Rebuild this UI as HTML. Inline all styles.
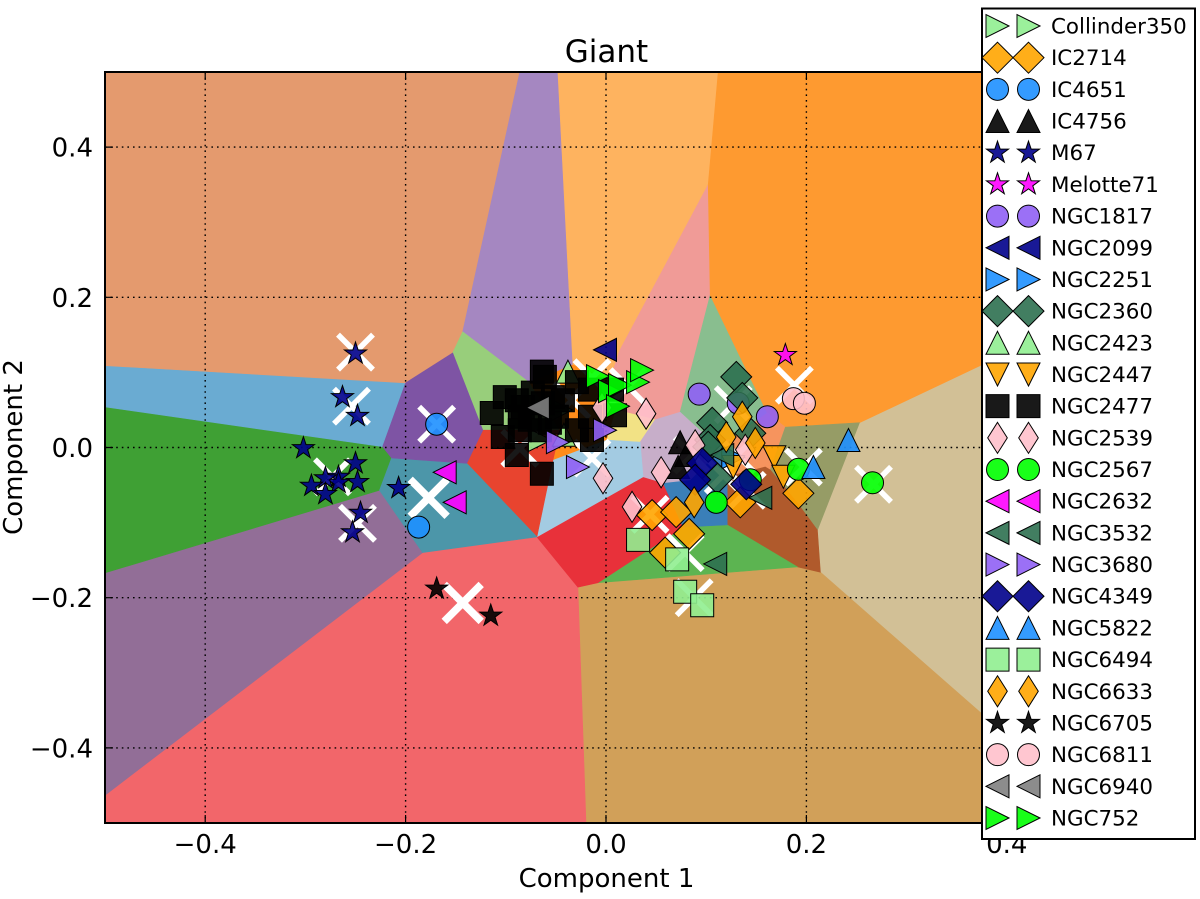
<!DOCTYPE html>
<html lang="en">
<head>
<meta charset="utf-8">
<title>Giant</title>
<style>
html,body{margin:0;padding:0;background:#fff;width:1200px;height:899px;overflow:hidden}
svg{display:block}
text{font-family:"DejaVu Sans","Liberation Sans",sans-serif;fill:#000}
</style>
</head>
<body>
<svg id="chart" xmlns="http://www.w3.org/2000/svg" width="1200" height="899" viewBox="0 0 1200 899">
  <defs><clipPath id="plot-clip"><rect x="106" y="72" width="1001" height="751"/></clipPath></defs>
  <g id="regions" clip-path="url(#plot-clip)"></g>
  <g id="grid"></g>
  <g id="centres" clip-path="url(#plot-clip)"></g>
  <g id="points" clip-path="url(#plot-clip)"></g>
  <g id="axes"></g>
  <text x="606.5" y="62" font-size="31" text-anchor="middle">Giant</text>
  <text x="606.5" y="887" font-size="26" text-anchor="middle">Component 1</text>
  <text transform="translate(22,447) rotate(-90)" font-size="26" text-anchor="middle">Component 2</text>
  <g id="legend">
    <rect x="982" y="8.5" width="213" height="830.5" fill="#fff" stroke="#000" stroke-width="2"/>
  </g>
</svg>
<script>
// Axis ticks
const xTicks = [-0.4, -0.2, 0, 0.2, 0.4];
const yTicks = [0.4, 0.2, 0, -0.2, -0.4];
const xTickLabels = ['\u22120.4', '\u22120.2', '0.0', '0.2', '0.4'];
const yTickLabels = ['0.4', '0.2', '0.0', '\u22120.2', '\u22120.4'];

// Decision-region polygons, in component units
const regionTan = [[.253,.033],[.375,.110],[.5,.183],[.5,-.5],[.373,-.352],[.214,-.166],[.211,-.110]];
const regionSandy = [[-.028,-.186],[-.008,-.180],[.191,-.159],[.214,-.166],[.373,-.352],[.5,-.5],[-.020,-.5]];
const regionCoral = [[-.5,-.463],[-.183,-.140],[-.069,-.119],[-.028,-.186],[-.020,-.5],[-.5,-.5]];
const regionMauve = [[-.5,-.167],[-.226,-.057],[-.183,-.140],[-.5,-.463]];
const regionGreen = [[-.5,.054],[-.223,.001],[-.214,-.014],[-.226,-.057],[-.5,-.167]];
const regionSkyBlue = [[-.5,.109],[-.200,.086],[-.223,.001],[-.5,.054]];
const regionPeach = [[-.5,.5],[-.086,.5],[-.143,.154],[-.153,.126],[-.200,.086],[-.5,.109]];
const regionLilac = [[-.086,.5],[-.048,.5],[-.033,.110],[-.076,.086],[-.143,.154]];
const regionPaleGreen = [[-.153,.126],[-.143,.154],[-.076,.086],[-.046,.023],[-.123,.023]];
const regionLightOrange = [[-.048,.5],[.112,.5],[.102,.350],[.014,.130],[.004,.090],[-.033,.110]];
const regionCentreOrange = [[-.046,.023],[-.076,.086],[-.033,.110],[.004,.090],[.010,.050],[.001,.010],[-.053,-.017]];
const regionPink = [[.102,.350],[.104,.203],[.074,.047],[.049,.037],[.010,.050],[.004,.090],[.014,.130]];
const regionYellow = [[.049,.037],[.034,.007],[.001,.010],[.010,.050]];
const regionSeaGreen = [[.104,.203],[.161,.046],[.124,.010],[.100,.015],[.074,.047]];
const regionBrightOrange = [[.112,.5],[.5,.5],[.5,.183],[.375,.110],[.253,.033],[.179,.027],[.161,.046],[.104,.203],[.102,.350]];
const regionSalmon = [[.161,.046],[.179,.027],[.164,-.030],[.159,-.026],[.121,-.039],[.124,.010]];
const regionOlive = [[.179,.027],[.253,.033],[.211,-.110],[.191,-.074],[.164,-.030]];
const regionBrown = [[.159,-.026],[.164,-.030],[.191,-.074],[.211,-.110],[.214,-.166],[.191,-.159],[.121,-.103],[.121,-.039]];
const regionMidGreen = [[-.008,-.180],[.077,-.106],[.121,-.103],[.191,-.159]];
const regionCrimson = [[-.069,-.119],[-.028,-.186],[-.008,-.180],[.077,-.106],[.057,-.047],[.037,-.039]];
const regionSteelBlue = [[.057,-.047],[.084,-.043],[.124,.010],[.121,-.039],[.121,-.103],[.077,-.106]];
const regionPaleLilac = [[.074,.047],[.100,.015],[.124,.010],[.084,-.043],[.057,-.047],[.037,-.039],[.034,.007],[.049,.037]];
const regionPaleBlue = [[-.069,-.119],[.037,-.039],[.034,.007],[.001,.010],[-.053,-.017]];
const regionRedOrange = [[-.139,-.021],[-.123,.023],[-.046,.023],[-.053,-.017],[-.069,-.119]];
const regionTeal = [[-.214,-.014],[-.139,-.021],[-.069,-.119],[-.183,-.140],[-.226,-.057]];
const regionDeepPurple = [[-.200,.086],[-.153,.126],[-.123,.023],[-.139,-.021],[-.214,-.014],[-.223,.001]];

// Cluster centres
const clusterCentres = [[-.250,.127],[-.254,.055],[-.169,.031],[-.273,-.039],[-.248,-.101],[.188,.083],[.267,-.049],[.088,-.200],[.044,-.089],[.079,-.140],[.197,-.026],[.127,.057],[.086,-.010],[.117,-.037],[.141,-.057],[.131,-.010],[-.014,.093],[.022,.081],[-.014,-.014],[-.086,-.001],[-.034,.063]];
const largeClusterCentres = [[-.177,-.067],[-.143,-.207]];

// Series points
const collinder350 = [[-.045,.05],[-.066,.01]];
const ic2714 = [[.046,-.090],[.070,-.086],[.083,-.115],[.059,-.140],[.134,-.073],[.192,-.061]];
const ic4651 = [[-.169,.031],[-.187,-.106]];
const ic4756 = [[.074,.007],[.072,-.026],[.080,-.010]];
const m67 = [[-.250,.125],[-.263,.067],[-.248,.042],[-.302,-.001],[-.250,-.021],[-.248,-.046],[-.267,-.039],[-.267,-.047],[-.280,-.041],[-.294,-.051],[-.280,-.062],[-.207,-.054],[-.245,-.087],[-.253,-.113]];
const melotte71 = [[.179,.123]];
const ngc1817 = [[.093,.071],[.161,.041],[.132,.059]];
const ngc2099 = [[-.001,.130]];
const ngc2251 = [[.127,-.013]];
const ngc2360 = [[.130,.094],[.136,.066],[.106,.033],[.104,.010],[.144,.019],[.111,-.041],[.102,.001]];
const ngc2423 = [[-.038,.101],[-.042,.017]];
const ngc2447 = [[.168,-.013],[.177,-.039],[.127,-.026]];
const ngc2477 = [[-.064,.101],[-.061,.094],[-.101,.067],[-.089,.063],[-.114,.046],[-.103,.014],[-.089,-.010],[-.064,-.035],[-.086,.023],[-.076,.037],[-.083,.054],[-.063,.059],[-.053,.067],[-.043,.063],[-.029,.087],[-.016,.077],[.009,.043],[.006,.077],[-.014,.010],[-.029,.023],[-.066,.023],[-.016,.041],[-.049,.041],[-.056,.033],[-.086,.041],[-.073,.073]];
const ngc2539 = [[-.003,-.041],[.040,.045],[.055,-.033],[.026,-.079],[-.004,.053],[.089,.003],[.139,-.003]];
const ngc2567 = [[.266,-.047],[.192,-.029],[.110,-.073],[.144,-.043]];
const ngc2632 = [[-.161,-.033],[-.151,-.073]];
const ngc3532 = [[.109,-.155],[.154,-.067],[.116,-.010]];
const ngc3680 = [[-.001,.023],[-.028,-.026],[-.048,.007]];
const ngc4349 = [[.096,-.021],[.089,-.043],[.140,-.049]];
const ngc5822 = [[.242,.010],[.207,-.026]];
const ngc6494 = [[.032,-.123],[.071,-.149],[.079,-.192],[.096,-.210]];
const ngc6633 = [[.136,.041],[.120,.014],[.149,.006],[.088,-.073]];
const ngc6705 = [[-.169,-.188],[-.115,-.224]];
const ngc6811 = [[.187,.065],[.198,.059]];
const ngc6940 = [[-.068,.053]];
const ngc752 = [[-.008,.095],[.004,.075],[.014,.083],[.032,.087],[.036,.103],[.012,.055]];

// Axis functions
function sx(v){ return 606 + 1002 * v; }
function sy(v){ return 447.5 - 751 * v; }

const NS = 'http://www.w3.org/2000/svg';
function make(tag, parent){
  const el = document.createElementNS(NS, tag);
  parent.appendChild(el);
  return el;
}

// Regions
const regionsG = document.getElementById('regions');
function drawRegion(poly, fill, name){
  const el = make('polygon', regionsG);
  
  
  el.setAttribute('points', poly.map(p => sx(p[0]).toFixed(1) + ',' + sy(p[1]).toFixed(1)).join(' '));
  el.setAttribute('fill', fill);
  el.setAttribute('stroke', fill);
  el.setAttribute('stroke-width', '0.6');
}
drawRegion(regionTan, '#D2C096', 'region-tan');
drawRegion(regionSandy, '#D1A059', 'region-sandy');
drawRegion(regionCoral, '#F2666A', 'region-coral');
drawRegion(regionMauve, '#926E97', 'region-mauve');
drawRegion(regionGreen, '#3FA034', 'region-green');
drawRegion(regionSkyBlue, '#6AABD2', 'region-sky-blue');
drawRegion(regionPeach, '#E49A6E', 'region-peach');
drawRegion(regionLilac, '#A587C1', 'region-lilac');
drawRegion(regionPaleGreen, '#98CE7B', 'region-pale-green');
drawRegion(regionLightOrange, '#FEB35F', 'region-light-orange');
drawRegion(regionCentreOrange, '#FF8C1A', 'region-centre-orange');
drawRegion(regionPink, '#F09B97', 'region-pink');
drawRegion(regionYellow, '#F2E285', 'region-yellow');
drawRegion(regionSeaGreen, '#89BE8F', 'region-sea-green');
drawRegion(regionBrightOrange, '#FE9A30', 'region-bright-orange');
drawRegion(regionSalmon, '#F6945E', 'region-salmon');
drawRegion(regionOlive, '#969C66', 'region-olive');
drawRegion(regionBrown, '#B05A2C', 'region-brown');
drawRegion(regionMidGreen, '#5CB451', 'region-mid-green');
drawRegion(regionCrimson, '#E8313A', 'region-crimson');
drawRegion(regionSteelBlue, '#3A7FB8', 'region-steel-blue');
drawRegion(regionPaleLilac, '#C7AEC9', 'region-pale-lilac');
drawRegion(regionPaleBlue, '#A3CBE2', 'region-pale-blue');
drawRegion(regionRedOrange, '#E8442F', 'region-red-orange');
drawRegion(regionTeal, '#4C96A9', 'region-teal');
drawRegion(regionDeepPurple, '#7E54A4', 'region-deep-purple');

// Grid
const gridG = document.getElementById('grid');
xTicks.forEach(function(t){
  const el = make('line', gridG);
  
  
  el.setAttribute('x1', sx(t)); el.setAttribute('x2', sx(t));
  el.setAttribute('y1', sy(0.5)); el.setAttribute('y2', sy(-0.5));
  el.setAttribute('stroke', '#000');
  el.setAttribute('stroke-width', '1.4');
  el.setAttribute('stroke-dasharray', '1.6,4');
});
yTicks.forEach(function(t){
  const el = make('line', gridG);
  
  
  el.setAttribute('x1', sx(-0.5)); el.setAttribute('x2', sx(0.5));
  el.setAttribute('y1', sy(t)); el.setAttribute('y2', sy(t));
  el.setAttribute('stroke', '#000');
  el.setAttribute('stroke-width', '1.4');
  el.setAttribute('stroke-dasharray', '1.6,4');
});

// White cluster centre crosses
const centresG = document.getElementById('centres');
function drawCross(c, half, width, name){
  const el = make('path', centresG);
  
  
  const x = sx(c[0]), y = sy(c[1]);
  el.setAttribute('d', 'M' + (x-half) + ' ' + (y-half) + 'L' + (x+half) + ' ' + (y+half) + 'M' + (x-half) + ' ' + (y+half) + 'L' + (x+half) + ' ' + (y-half));
  el.setAttribute('stroke', '#fff');
  el.setAttribute('stroke-width', width);
  el.setAttribute('fill', 'none');
}
clusterCentres.forEach(function(c){ drawCross(c, 17.5, 5.5, 'cluster-centre-cross'); });
largeClusterCentres.forEach(function(c){ drawCross(c, 18.5, 7.5, 'large-cluster-centre-cross'); });

// Marker shapes
function pts(list, x, y){
  return 'M' + list.map(p => (x + p[0]).toFixed(2) + ' ' + (y + p[1]).toFixed(2)).join('L') + 'Z';
}
function markerPath(shape, x, y){
  if (shape === 'o') {
    return 'M' + (x-11) + ' ' + y + 'A11 11 0 1 0 ' + (x+11) + ' ' + y + 'A11 11 0 1 0 ' + (x-11) + ' ' + y + 'Z';
  }
  if (shape === 's') return pts([[-11.5,-11.5],[11.5,-11.5],[11.5,11.5],[-11.5,11.5]], x, y);
  if (shape === '^') return pts([[0,-11.5],[11.5,11.5],[-11.5,11.5]], x, y);
  if (shape === 'v') return pts([[0,11.5],[11.5,-11.5],[-11.5,-11.5]], x, y);
  if (shape === '<') return pts([[-11.5,0],[11.5,-11.5],[11.5,11.5]], x, y);
  if (shape === '>') return pts([[11.5,0],[-11.5,-11.5],[-11.5,11.5]], x, y);
  if (shape === 'D') return pts([[0,-15.5],[15.5,0],[0,15.5],[-15.5,0]], x, y);
  if (shape === 'd') return pts([[0,-15.5],[9.8,0],[0,15.5],[-9.8,0]], x, y);
  const star = [];
  for (let i = 0; i < 10; i++) {
    const r = i % 2 ? 4.5 : 11.6;
    const a = -Math.PI / 2 + i * Math.PI / 5;
    star.push([r * Math.cos(a), r * Math.sin(a)]);
  }
  return pts(star, x, y);
}

// Series definitions (legend order)
const seriesList = [
  {name:'Collinder350', shape:'>', color:'#90EE90', points:collinder350},
  {name:'IC2714', shape:'D', color:'#FFA500', points:ic2714},
  {name:'IC4651', shape:'o', color:'#1E90FF', points:ic4651},
  {name:'IC4756', shape:'^', color:'#000000', points:ic4756},
  {name:'M67', shape:'*', color:'#00008B', points:m67},
  {name:'Melotte71', shape:'*', color:'#FF00FF', points:melotte71},
  {name:'NGC1817', shape:'o', color:'#9060F5', points:ngc1817},
  {name:'NGC2099', shape:'<', color:'#00008B', points:ngc2099},
  {name:'NGC2251', shape:'>', color:'#1E90FF', points:ngc2251},
  {name:'NGC2360', shape:'D', color:'#2E7050', points:ngc2360},
  {name:'NGC2423', shape:'^', color:'#90EE90', points:ngc2423},
  {name:'NGC2447', shape:'v', color:'#FFA500', points:ngc2447},
  {name:'NGC2477', shape:'s', color:'#000000', points:ngc2477},
  {name:'NGC2539', shape:'d', color:'#FFC0CB', points:ngc2539},
  {name:'NGC2567', shape:'o', color:'#00FF00', points:ngc2567},
  {name:'NGC2632', shape:'<', color:'#FF00FF', points:ngc2632},
  {name:'NGC3532', shape:'<', color:'#2E7050', points:ngc3532},
  {name:'NGC3680', shape:'>', color:'#9060F5', points:ngc3680},
  {name:'NGC4349', shape:'D', color:'#00008B', points:ngc4349},
  {name:'NGC5822', shape:'^', color:'#1E90FF', points:ngc5822},
  {name:'NGC6494', shape:'s', color:'#90EE90', points:ngc6494},
  {name:'NGC6633', shape:'d', color:'#FFA500', points:ngc6633},
  {name:'NGC6705', shape:'*', color:'#000000', points:ngc6705},
  {name:'NGC6811', shape:'o', color:'#FFC0CB', points:ngc6811},
  {name:'NGC6940', shape:'<', color:'#808080', points:ngc6940},
  {name:'NGC752', shape:'>', color:'#00FF00', points:ngc752}
];

function drawMarker(parent, s, x, y, name){
  const el = make('path', parent);
  
  
  el.setAttribute('d', markerPath(s.shape, x, y));
  el.setAttribute('fill', s.color);
  el.setAttribute('fill-opacity', '0.9');
  el.setAttribute('stroke', '#000');
  el.setAttribute('stroke-width', '1');
  el.setAttribute('stroke-linejoin', 'miter');
}

const pointsG = document.getElementById('points');
seriesList.forEach(function(s){
  s.points.forEach(function(p){
    drawMarker(pointsG, s, sx(p[0]), sy(p[1]), s.name.toLowerCase() + '-point');
  });
});

// Axes, ticks, labels
const axesG = document.getElementById('axes');
const frame = make('rect', axesG);


frame.setAttribute('x', sx(-0.5));
frame.setAttribute('y', sy(0.5));
frame.setAttribute('width', sx(0.5) - sx(-0.5));
frame.setAttribute('height', sy(-0.5) - sy(0.5));
frame.setAttribute('fill', 'none');
frame.setAttribute('stroke', '#000');
frame.setAttribute('stroke-width', '2');

xTicks.forEach(function(t, i){
  const d = make('path', axesG);
  
  
  d.setAttribute('d', 'M' + sx(t) + ' ' + sy(-0.5) + 'v-8M' + sx(t) + ' ' + sy(0.5) + 'v8');
  d.setAttribute('stroke', '#000');
  d.setAttribute('stroke-width', '1.2');
  const l = make('text', axesG);
  
  
  l.setAttribute('x', sx(t));
  l.setAttribute('y', 853);
  l.setAttribute('font-size', '26');
  l.setAttribute('text-anchor', 'middle');
  l.textContent = xTickLabels[i];
});
yTicks.forEach(function(t, i){
  const d = make('path', axesG);
  
  
  d.setAttribute('d', 'M' + sx(-0.5) + ' ' + sy(t) + 'h8M' + sx(0.5) + ' ' + sy(t) + 'h-8');
  d.setAttribute('stroke', '#000');
  d.setAttribute('stroke-width', '1.2');
  const l = make('text', axesG);
  
  
  l.setAttribute('x', 93);
  l.setAttribute('y', sy(t) + 9.5);
  l.setAttribute('font-size', '26');
  l.setAttribute('text-anchor', 'end');
  l.textContent = yTickLabels[i];
});

// Legend
const legendG = document.getElementById('legend');
seriesList.forEach(function(s, i){
  const y = 26 + i * 31.68;
  const slug = s.name.toLowerCase();
  const entry = make('g', legendG);
  
  
  drawMarker(entry, s, 997.5, y, 'legend-marker');
  drawMarker(entry, s, 1028.5, y, 'legend-marker');
  const t = make('text', entry);
  
  
  t.setAttribute('x', 1051);
  t.setAttribute('y', y + 7.5);
  t.setAttribute('font-size', '21.4');
  t.textContent = s.name;
});
</script>
</body>
</html>
